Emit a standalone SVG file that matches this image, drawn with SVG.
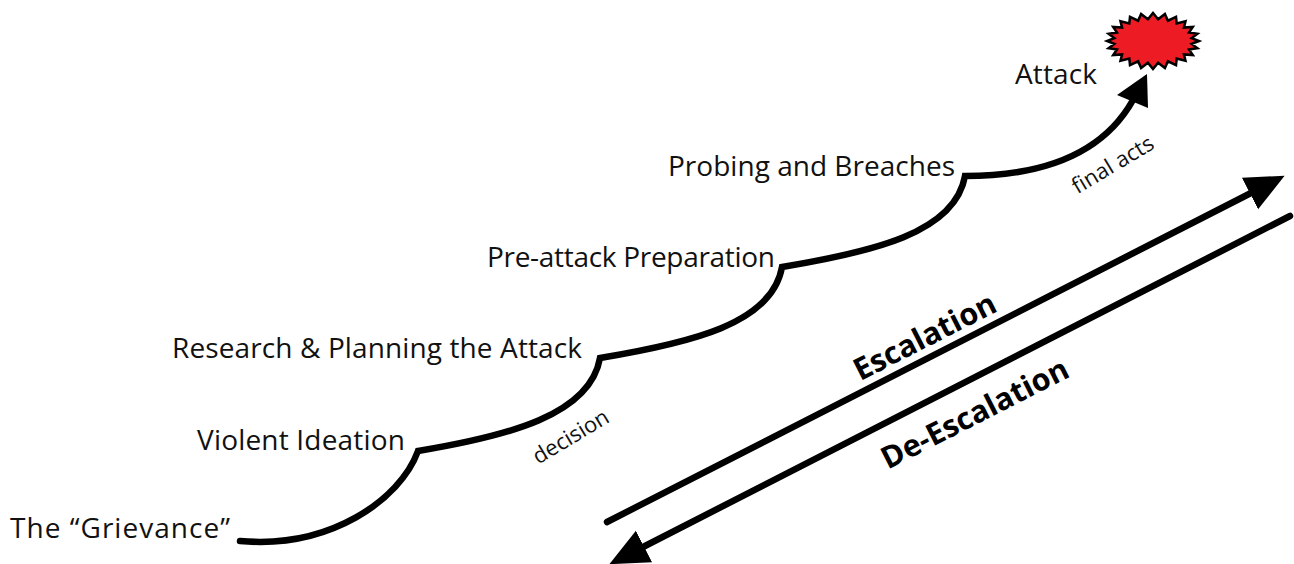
<svg xmlns="http://www.w3.org/2000/svg" width="1294" height="564" viewBox="0 0 1294 564">
<defs>
<style>
.lbl{font-family:"Open Sans","Liberation Sans",sans-serif;font-size:28px;fill:#111;}
.sm{font-family:"Open Sans","Liberation Sans",sans-serif;font-size:22px;fill:#111;}
.bold{font-family:"Open Sans","Liberation Sans",sans-serif;font-size:30.5px;font-weight:700;fill:#000;}
.ln{fill:none;stroke:#000;stroke-width:6.5;stroke-linecap:round;}
</style>
<marker id="ah" markerUnits="userSpaceOnUse" markerWidth="40" markerHeight="40" viewBox="0 -17 36 34" refX="1" refY="0" orient="auto">
<path d="M0,-16 L35,0 L0,16 Z" fill="#000"/>
</marker>
</defs>
<rect width="1294" height="564" fill="#fff"/>
<g id="connectors">
<path class="ln" stroke-linejoin="miter" d="M240 541 C330 549 400 500 418 451 C508 436 590 415 600 358 C690 343 772 324 782 267 C872 252 955 233 965 176 C1050 176 1105 150 1133 100"/>
<polygon points="1147,74 1117,95 1148,108" fill="#000"/>
<line class="ln" x1="607" y1="522" x2="1251" y2="193" marker-end="url(#ah)"/>
<line class="ln" x1="1290" y1="216" x2="643" y2="547" marker-end="url(#ah)"/>
</g>
<g id="grievance"><text class="lbl" x="10" y="538" textLength="220" lengthAdjust="spacing">The “Grievance”</text></g>
<g id="violent-ideation"><text class="lbl" x="197" y="450" textLength="208" lengthAdjust="spacing">Violent Ideation</text></g>
<g id="research"><text class="lbl" x="172" y="358" textLength="410" lengthAdjust="spacing">Research &amp; Planning the Attack</text></g>
<g id="pre-attack"><text class="lbl" x="487" y="267" textLength="288" lengthAdjust="spacing">Pre-attack Preparation</text></g>
<g id="probing"><text class="lbl" x="668" y="176" textLength="287" lengthAdjust="spacing">Probing and Breaches</text></g>
<g id="attack">
<text class="lbl" x="1015" y="84" textLength="82" lengthAdjust="spacing">Attack</text>
<polygon fill="#ed1c24" stroke="#000" stroke-width="2.5" stroke-linejoin="miter" points="1199,41 1191.7,43.9 1197.4,48.2 1189,49.4 1192.8,55 1183.9,54.4 1185.5,60.8 1176.7,58.5 1176,65.2 1167.9,61.3 1164.9,68 1158.1,62.8 1153,69 1147.9,62.8 1141.1,68 1138.1,61.3 1130,65.2 1129.3,58.5 1120.5,60.8 1122.1,54.4 1113.2,55 1117,49.4 1108.6,48.2 1114.3,43.9 1107,41 1114.3,38.1 1108.6,33.8 1117,32.6 1113.2,27 1122.1,27.6 1120.5,21.2 1129.3,23.5 1130,16.8 1138.1,20.7 1141.1,14 1147.9,19.2 1153,13 1158.1,19.2 1164.9,14 1167.9,20.7 1176,16.8 1176.7,23.5 1185.5,21.2 1183.9,27.6 1192.8,27 1189,32.6 1197.4,33.8 1191.7,38.1"/>
</g>
<g id="decision"><text class="sm" text-anchor="middle" transform="translate(571,437) rotate(-31)" y="7">decision</text></g>
<g id="final-acts"><text class="sm" text-anchor="middle" transform="translate(1113,165) rotate(-31)" y="7">final acts</text></g>
<g id="escalation"><text class="bold" text-anchor="middle" transform="translate(925,337) rotate(-27)" y="10">Escalation</text></g>
<g id="de-escalation"><text class="bold" text-anchor="middle" transform="translate(975,414) rotate(-27)" y="10">De-Escalation</text></g>
</svg>
